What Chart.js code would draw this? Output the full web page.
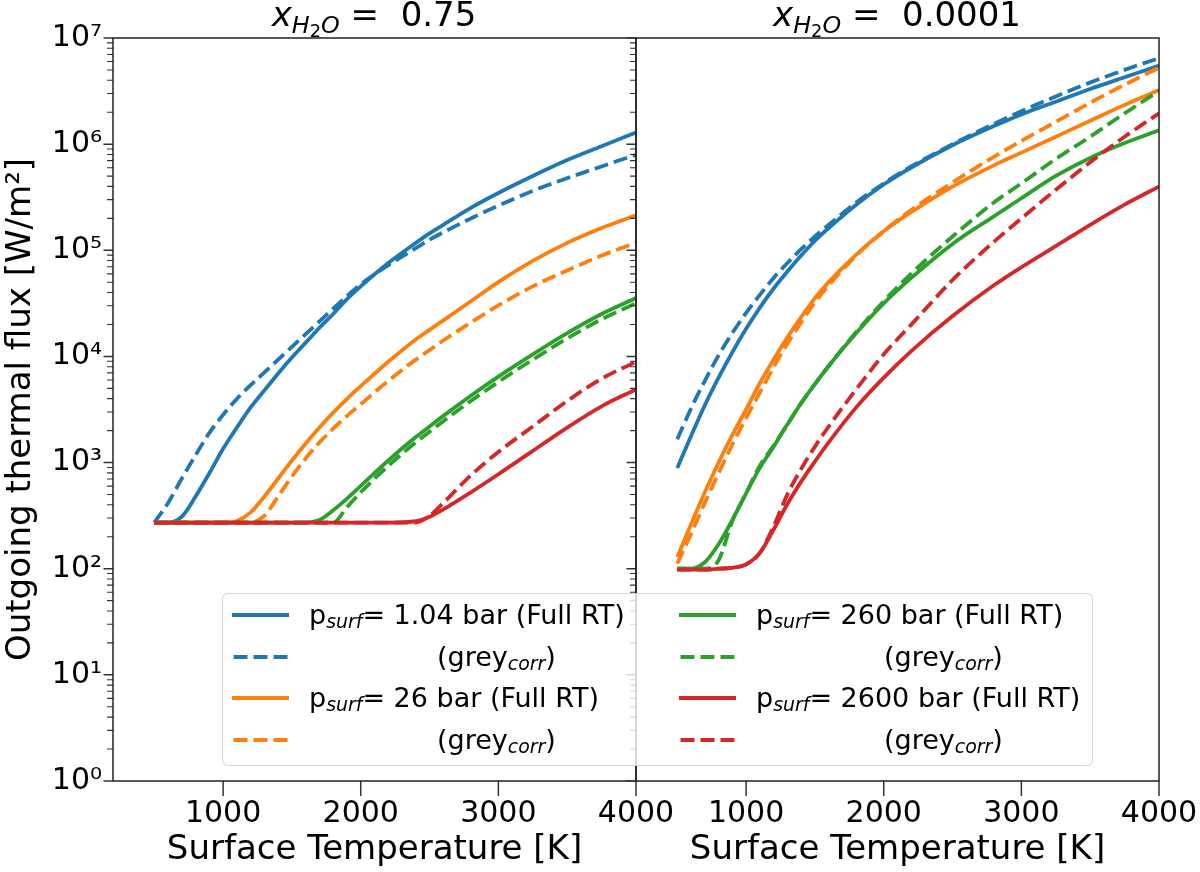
<!DOCTYPE html>
<html>
<head>
<meta charset="utf-8">
<script src="https://cdn.jsdelivr.net/npm/chart.js@4.4.0/dist/chart.umd.min.js"></script>
<style>
  html, body { margin: 0; padding: 0; background: #fff; }
  body { width: 1200px; height: 872px; position: relative; overflow: hidden; font-family: "DejaVu Sans", sans-serif; color: #000; }
  canvas { position: absolute; top: 0; }
  #leftChart { left: 0; }
  #rightChart { left: 560px; }
  .title { position: absolute; top: -6px; font-size: 34px; line-height: 40px; white-space: nowrap; transform: translateX(-50%); }
  .title sub { font-size: 0.7em; vertical-align: -0.3em; line-height: 0; }
  .title sub sub { font-size: 0.75em; vertical-align: -0.25em; }
  #legend { position: absolute; left: 222px; top: 593px; width: 871px; height: 173px; box-sizing: border-box;
            background: rgba(255,255,255,0.8); border: 1px solid rgba(204,204,204,0.8); border-radius: 6px;
            font-size: 27px; z-index: 5; }
  .entry { position: absolute; height: 40px; display: flex; align-items: center; white-space: nowrap; line-height: 30px; }
  .entry svg { flex: none; margin-right: 20px; }
  .entry sub { font-size: 0.7em; font-style: italic; vertical-align: -0.2em; line-height: 0; }
  .grey { padding-left: 128px; }
</style>
</head>
<body>
<canvas id="leftChart" width="700" height="872"></canvas>
<canvas id="rightChart" width="640" height="872"></canvas>
<div class="title" style="left:374px"><i>x</i><sub><i>H</i><sub>2</sub><i>O</i></sub> = &nbsp;0.75</div>
<div class="title" style="left:897px"><i>x</i><sub><i>H</i><sub>2</sub><i>O</i></sub> = &nbsp;0.0001</div>
<div id="legend"></div>
<script>
// Outgoing thermal flux vs surface temperature, two water mixing ratios
const xTicks = [1000, 2000, 3000, 4000];
const yTicks = [1, 10, 100, 1e3, 1e4, 1e5, 1e6, 1e7];
const pressures = ['1.04', '26', '260', '2600'];
const colors = ['#1f77b4', '#ff7f0e', '#2ca02c', '#d62728'];

// left panel, x_H2O = 0.75
const tempLeft = [500, 600, 700, 800, 900, 1000, 1100, 1200, 1300, 1400, 1500, 1600, 1700, 1800, 1900, 2000, 2200, 2400, 2500, 2600, 2800, 3000, 3250, 3500, 3750, 4000];
const fullLeft1 = [272, 272, 309, 479, 794, 1349, 2138, 3311, 4786, 6918, 9772, 13490, 18620, 25120, 34670, 45710, 75860, 117500, 144500, 173800, 251200, 346700, 501200, 707900, 955000, 1288000];
const greyLeft1 = [272, 417, 708, 1175, 1905, 2818, 3981, 5370, 7079, 9333, 12300, 16220, 21380, 28180, 37150, 47860, 72440, 104700, 125900, 147900, 199500, 263000, 363100, 478600, 616600, 794300];
const fullLeft2 = [272, 272, 272, 272, 272, 272, 282, 339, 479, 708, 1047, 1514, 2138, 2951, 3981, 5248, 8913, 14450, 17780, 21880, 33110, 50120, 79430, 117500, 162200, 213800];
const greyLeft2 = [272, 272, 272, 272, 272, 272, 272, 272, 316, 479, 741, 1096, 1549, 2089, 2754, 3548, 5888, 9333, 11480, 14130, 20890, 30200, 45710, 64570, 89130, 117500];
const fullLeft3 = [272, 272, 272, 272, 272, 272, 272, 272, 272, 272, 272, 272, 288, 355, 457, 603, 1047, 1738, 2188, 2754, 4266, 6457, 10470, 16600, 25120, 35480];
const greyLeft3 = [272, 272, 272, 272, 272, 272, 272, 272, 272, 272, 272, 272, 272, 272, 380, 525, 933, 1549, 1950, 2455, 3802, 5754, 9333, 14790, 22390, 31620];
const fullLeft4 = [272, 272, 272, 272, 272, 272, 272, 272, 272, 272, 272, 272, 272, 272, 272, 272, 272, 280, 309, 363, 525, 776, 1288, 2138, 3388, 4898];
const greyLeft4 = [272, 272, 272, 272, 272, 272, 272, 272, 272, 272, 272, 272, 272, 272, 272, 272, 272, 272, 316, 417, 759, 1259, 2188, 3802, 6166, 8913];

// right panel, x_H2O = 0.0001
const tempRight = [500, 600, 700, 800, 900, 1000, 1100, 1200, 1300, 1400, 1500, 1600, 1800, 2000, 2200, 2500, 2800, 3000, 3250, 3500, 3750, 4000];
const fullRight1 = [891, 1778, 3467, 6310, 10960, 18200, 28840, 43650, 63100, 89130, 123000, 162200, 269200, 416900, 602600, 977200, 1479000, 1905000, 2512000, 3311000, 4266000, 5495000];
const greyRight1 = [1660, 3236, 5888, 10230, 16600, 25700, 38020, 54950, 75860, 102300, 134900, 173800, 281800, 426600, 616600, 1000000, 1549000, 2042000, 2818000, 3802000, 5012000, 6457000];
const fullRight2 = [129, 263, 525, 1000, 1820, 3162, 5623, 9333, 15140, 23440, 35480, 50120, 91200, 151400, 229100, 398100, 631000, 831800, 1175000, 1660000, 2344000, 3236000];
const greyRight2 = [112, 214, 417, 794, 1479, 2630, 4571, 7943, 13180, 20890, 32360, 46770, 89130, 151400, 239900, 436500, 758600, 1072000, 1622000, 2455000, 3631000, 5248000];
const fullRight3 = [100, 100, 115, 170, 288, 513, 891, 1413, 2291, 3631, 5495, 8128, 16600, 31620, 54950, 114800, 208900, 309000, 501200, 741300, 1023000, 1349000];
const greyRight3 = [100, 100, 100, 120, 282, 513, 933, 1445, 2291, 3631, 5495, 8128, 16980, 33110, 60260, 134900, 281800, 426600, 724400, 1175000, 1950000, 3162000];
const fullRight4 = [98, 98, 98, 100, 102, 110, 141, 234, 407, 661, 1023, 1549, 3311, 6310, 11220, 23990, 46770, 69180, 109600, 173800, 269200, 398100];
const greyRight4 = [98, 98, 98, 100, 102, 110, 141, 251, 501, 871, 1413, 2188, 4898, 10470, 19950, 52480, 120200, 199500, 371500, 676100, 1175000, 1950000];

const DASH = [14, 6];
const LINE_W = 3.8;
const supDigits = ['\u2070', '\u00b9', '\u00b2', '\u00b3', '\u2074', '\u2075', '\u2076', '\u2077'];

Chart.defaults.font.family = '"DejaVu Sans", sans-serif';
Chart.defaults.color = '#000';

function makeSeries(temps, values, color, dashed, order) {
  return {
    data: temps.map((t, i) => ({ x: t, y: values[i] })),
    borderColor: color,
    borderWidth: LINE_W,
    borderDash: dashed ? DASH : [],
    pointRadius: 0,
    fill: false,
    cubicInterpolationMode: 'monotone',
    order: order
  };
}

function panelDatasets(temps, full, grey) {
  // later curves sit on top, as in the original plot
  const out = [];
  for (let i = 0; i < 4; i++) {
    out.push(makeSeries(temps, full[i], colors[i], false, 8 - 2 * i));
    out.push(makeSeries(temps, grey[i], colors[i], true, 7 - 2 * i));
  }
  return out;
}

// spines and tick marks, matplotlib style
const framePlugin = {
  id: 'frame',
  afterDraw(chart) {
    const { ctx, chartArea: a, scales } = chart;
    ctx.save();
    ctx.strokeStyle = '#333';
    ctx.lineWidth = 1.5;
    ctx.beginPath();
    xTicks.forEach(v => {
      const px = scales.x.getPixelForValue(v);
      ctx.moveTo(px, a.bottom);
      ctx.lineTo(px, a.bottom + 15);
    });
    yTicks.forEach(v => {
      const py = scales.y.getPixelForValue(v);
      ctx.moveTo(a.left, py);
      ctx.lineTo(a.left - 9.5, py);
    });
    ctx.stroke();
    ctx.lineWidth = 1.1;
    ctx.beginPath();
    for (let d = 0; d < 7; d++) {
      for (let k = 2; k <= 9; k++) {
        const py = scales.y.getPixelForValue(k * Math.pow(10, d));
        ctx.moveTo(a.left, py);
        ctx.lineTo(a.left - 6, py);
      }
    }
    ctx.stroke();
    ctx.strokeStyle = '#222';
    ctx.lineWidth = 1.5;
    ctx.strokeRect(a.left, a.top, a.right - a.left, a.bottom - a.top);
    ctx.restore();
  }
};

function xScale() {
  return {
    type: 'linear', min: 200, max: 4000,
    afterBuildTicks: s => { s.ticks = xTicks.map(v => ({ value: v })); },
    afterFit: s => { s.height = 91; s.paddingLeft = 0; s.paddingRight = 0; },
    ticks: { font: { size: 30 }, padding: 15, maxRotation: 0, callback: v => String(v) },
    grid: { display: false, drawTicks: false },
    border: { display: false },
    title: { display: true, text: 'Surface Temperature [K]', font: { size: 34 }, padding: { top: 0, bottom: 1 } }
  };
}

const commonOptions = {
  responsive: false,
  animation: false,
  events: [],
  plugins: { legend: { display: false }, tooltip: { enabled: false } }
};

new Chart(document.getElementById('leftChart'), {
  type: 'line',
  data: { datasets: panelDatasets(tempLeft,
    [fullLeft1, fullLeft2, fullLeft3, fullLeft4],
    [greyLeft1, greyLeft2, greyLeft3, greyLeft4]) },
  options: Object.assign({}, commonOptions, {
    layout: { padding: { left: 0, top: 38, right: 64, bottom: 0 } },
    scales: {
      x: xScale(),
      y: {
        type: 'logarithmic', min: 1, max: 1e7,
        afterBuildTicks: s => { s.ticks = yTicks.map(v => ({ value: v })); },
        afterFit: s => { s.width = 113; s.paddingTop = 0; s.paddingBottom = 0; },
        ticks: { font: { size: 30 }, padding: 11, callback: v => '10' + supDigits[Math.round(Math.log10(v))] },
        grid: { display: false, drawTicks: false },
        border: { display: false },
        title: { display: true, text: 'Outgoing thermal flux [W/m\u00b2]', font: { size: 34 }, padding: { top: 1, bottom: 0 } }
      }
    }
  }),
  plugins: [framePlugin]
});

new Chart(document.getElementById('rightChart'), {
  type: 'line',
  data: { datasets: panelDatasets(tempRight,
    [fullRight1, fullRight2, fullRight3, fullRight4],
    [greyRight1, greyRight2, greyRight3, greyRight4]) },
  options: Object.assign({}, commonOptions, {
    layout: { padding: { left: 76, top: 38, right: 41, bottom: 0 } },
    scales: {
      x: xScale(),
      y: { type: 'logarithmic', min: 1, max: 1e7, display: false }
    }
  }),
  plugins: [framePlugin]
});

// legend: two columns, solid = Full RT, dashed = grey_corr
const legend = document.getElementById('legend');
const colLeft = [9, 456];
const rowTop = [1, 43, 84, 126];
function handle(color, dashed) {
  const line = dashed
    ? '<line x1="1.5" y1="4" x2="55.5" y2="4" stroke="' + color + '" stroke-width="' + LINE_W + '" stroke-dasharray="' + DASH.join(' ') + '"/>'
    : '<line x1="0" y1="4" x2="57" y2="4" stroke="' + color + '" stroke-width="' + LINE_W + '"/>';
  return '<svg width="57" height="8">' + line + '</svg>';
}
pressures.forEach((p, i) => {
  const col = colLeft[Math.floor(i / 2)];
  const r = (i % 2) * 2;
  const full = document.createElement('div');
  full.className = 'entry';
  full.style.left = col + 'px';
  full.style.top = rowTop[r] + 'px';
  full.innerHTML = handle(colors[i], false) + '<span>p<sub>surf</sub>= ' + p + ' bar (Full RT)</span>';
  legend.appendChild(full);
  const grey = document.createElement('div');
  grey.className = 'entry';
  grey.style.left = col + 'px';
  grey.style.top = rowTop[r + 1] + 'px';
  grey.innerHTML = handle(colors[i], true) + '<span class="grey">(grey<sub>corr</sub>)</span>';
  legend.appendChild(grey);
});
</script>
</body>
</html>
